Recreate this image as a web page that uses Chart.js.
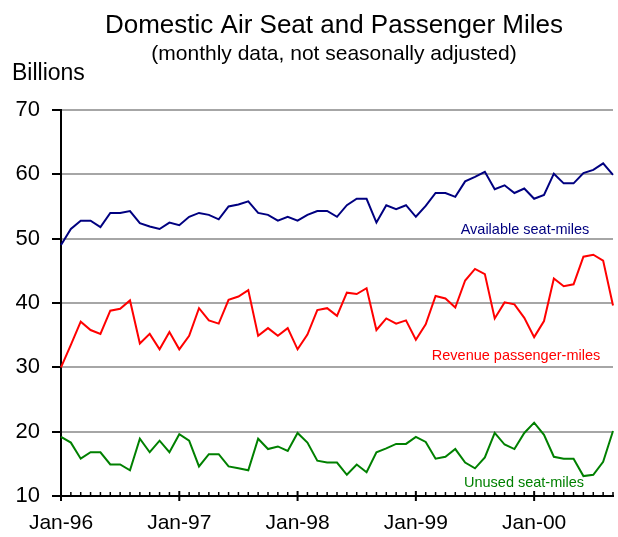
<!DOCTYPE html>
<html>
<head>
<meta charset="utf-8">
<script src="https://cdn.jsdelivr.net/npm/chart.js@4"></script>
<style>
  html, body { margin: 0; padding: 0; background: #fff; }
  #wrap { width: 618px; height: 537px; position: relative; }
</style>
</head>
<body>
<div id="wrap"><canvas id="c" width="618" height="537"></canvas></div>
<script>
/* Domestic Air Seat and Passenger Miles, Jan-96 .. Sep-00 (billions) */
const monthNames = ['Jan', 'Feb', 'Mar', 'Apr', 'May', 'Jun', 'Jul', 'Aug', 'Sep', 'Oct', 'Nov', 'Dec'];
const years = ['96', '97', '98', '99', '00'];
const nMonths = 57;

const availableSeatMiles = [
  49.0, 51.5, 52.8, 52.8, 51.8, 54.0, 54.0, 54.3, 52.4, 51.9, 51.5, 52.5,
  52.1, 53.4, 54.0, 53.7, 53.0, 55.0, 55.3, 55.8, 54.0, 53.7, 52.8, 53.4,
  52.8, 53.7, 54.3, 54.3, 53.4, 55.2, 56.2, 56.2, 52.5, 55.2, 54.6, 55.2,
  53.4, 55.1, 57.1, 57.1, 56.5, 58.9, 59.6, 60.4, 57.7, 58.3, 57.1, 57.8,
  56.2, 56.8, 60.1, 58.6, 58.6, 60.2, 60.7, 61.7, 59.9
];
const revenuePassengerMiles = [
  30.0, 33.5, 37.1, 35.8, 35.2, 38.8, 39.1, 40.4, 33.7, 35.2, 32.8, 35.5,
  32.8, 34.9, 39.2, 37.3, 36.8, 40.5, 41.0, 42.0, 34.9, 36.1, 34.9, 36.1,
  32.8, 35.1, 38.9, 39.2, 38.0, 41.6, 41.4, 42.3, 35.8, 37.6, 36.8, 37.3,
  34.3, 36.7, 41.1, 40.7, 39.3, 43.5, 45.3, 44.5, 37.6, 40.1, 39.8, 37.7,
  34.7, 37.2, 43.8, 42.6, 42.9, 47.2, 47.5, 46.6, 39.6
];
const unusedSeatMiles = [
  19.2, 18.3, 15.8, 16.8, 16.8, 14.9, 14.9, 14.0, 18.9, 16.8, 18.6, 16.8,
  19.6, 18.6, 14.6, 16.5, 16.5, 14.6, 14.3, 14.0, 18.9, 17.3, 17.7, 17.0,
  19.8, 18.3, 15.5, 15.2, 15.2, 13.3, 14.9, 13.7, 16.8, 17.4, 18.1, 18.1,
  19.2, 18.4, 15.8, 16.1, 17.3, 15.2, 14.3, 16.0, 19.8, 18.0, 17.3, 19.8,
  21.4, 19.5, 16.1, 15.8, 15.8, 13.1, 13.3, 15.3, 20.1
];
const yTicks = [10, 20, 30, 40, 50, 60, 70];

const labels = [];
for (let i = 0; i < nMonths; i++) labels.push(monthNames[i % 12] + '-' + years[Math.floor(i / 12)]);

const COL = { navy: '#000080', red: '#ff0000', green: '#008000', grid: '#a6a6a6' };
const FONT = '"Liberation Sans", Arial, Helvetica, sans-serif';

/* titre, unité, étiquettes de séries */
const textPlugin = {
  id: 'texts',
  afterDraw(chart) {
    const ctx = chart.ctx;
    ctx.save();
    ctx.fillStyle = '#000';
    ctx.textAlign = 'center';
    ctx.textBaseline = 'alphabetic';
    ctx.font = '26px ' + FONT;
    ctx.fillText('Domestic Air Seat and Passenger Miles', 334, 33);
    ctx.font = '21px ' + FONT;
    ctx.fillText('(monthly data, not seasonally adjusted)', 334, 60);
    ctx.textAlign = 'left';
    ctx.font = '23px ' + FONT;
    ctx.fillText('Billions', 12, 80);
    ctx.textAlign = 'center';
    ctx.font = '14.5px ' + FONT;
    ctx.fillStyle = COL.navy; ctx.fillText('Available seat-miles', 525, 234);
    ctx.fillStyle = COL.red; ctx.fillText('Revenue passenger-miles', 516, 360);
    ctx.fillStyle = COL.green; ctx.fillText('Unused seat-miles', 524, 487);
    ctx.restore();
  },
};

/* graduations mensuelles de l'axe des x (petites vers le haut, janvier traversant) */
const monthTicks = {
  id: 'monthTicks',
  afterDraw(chart) {
    const { ctx, scales: { x }, chartArea } = chart;
    const y0 = chartArea.bottom;
    ctx.save();
    ctx.strokeStyle = '#000';
    for (let i = 0; i < nMonths; i++) {
      const px = x.getPixelForValue(i);
      ctx.beginPath();
      if (i % 12 === 0) { ctx.lineWidth = 2; ctx.moveTo(px, y0 - 5); ctx.lineTo(px, y0 + 5); }
      else { ctx.lineWidth = 1.5; ctx.moveTo(px, y0); ctx.lineTo(px, y0 - 4); }
      ctx.stroke();
    }
    ctx.restore();
  },
};

const ds = (data, color) => ({ data, borderColor: color, borderWidth: 2, pointRadius: 0, tension: 0, fill: false });

new Chart(document.getElementById('c').getContext('2d'), {
  type: 'line',
  data: { labels, datasets: [ds(availableSeatMiles, COL.navy), ds(revenuePassengerMiles, COL.red), ds(unusedSeatMiles, COL.green)] },
  options: {
    responsive: false, animation: false,
    layout: { padding: { top: 110, right: 5, left: 0, bottom: 0 } },
    plugins: { legend: { display: false }, tooltip: { enabled: false }, title: { display: false } },
    scales: {
      x: {
        offset: false,
        afterFit(s) { s.height = 41; s.paddingLeft = 0; s.paddingRight = 0; },
        grid: { display: true, drawOnChartArea: false, drawTicks: false },
        border: { display: true, color: '#000', width: 2 },
        ticks: {
          autoSkip: false, maxRotation: 0, minRotation: 0, padding: 15, color: '#000',
          font: { family: FONT, size: 21 },
          callback: (v, i) => (i % 12 === 0 ? labels[i] : ''),
        },
      },
      y: {
        min: 10, max: 70,
        afterFit(s) { s.width = 61; },
        afterBuildTicks(s) { s.ticks = yTicks.map(v => ({ value: v })); },
        grid: {
          color: (c) => (c.tick && c.tick.value === 10 ? 'rgba(0,0,0,0)' : COL.grid),
          lineWidth: 2, tickColor: '#000', tickWidth: 2, tickLength: 9,
        },
        border: { display: true, color: '#000', width: 2 },
        ticks: { padding: 12, color: '#000', font: { family: FONT, size: 22 } },
      },
    },
  },
  plugins: [textPlugin, monthTicks],
});
</script>
</body>
</html>
